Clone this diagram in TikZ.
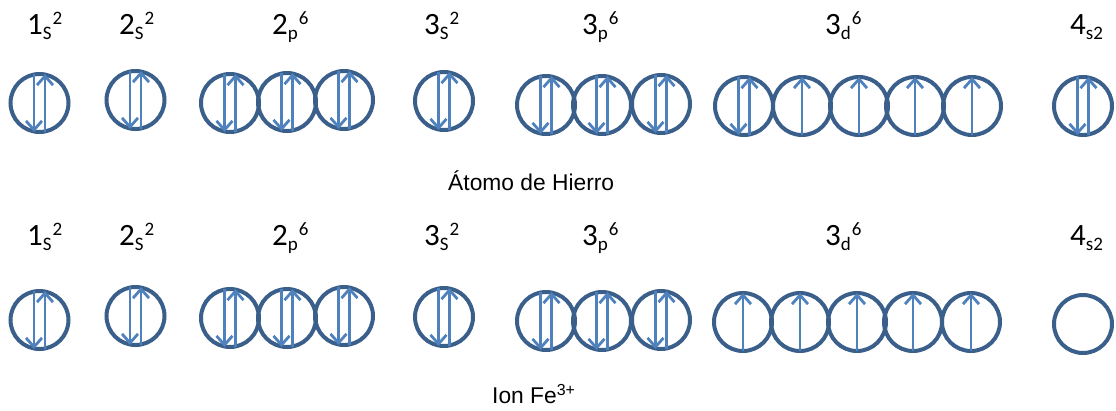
\documentclass[tikz,border=0pt]{standalone}
\usepackage{fontspec}
\setmainfont{Carlito}
\newfontfamily\capfont{Liberation Sans}
\usetikzlibrary{arrows.meta}
\definecolor{ringc}{HTML}{3A5F8B}
\definecolor{arrc}{HTML}{4F81BD}
\newcommand{\olab}[3]{#1\raisebox{-5pt}{\fontsize{19}{19}\selectfont #2}\raisebox{10pt}{\fontsize{19}{19}\selectfont\hspace{1pt}#3}}
\newcommand{\pairorb}[3]{%
 \node[orb] (#1) at (#2,#3) {};
 \draw[spin] ([xshift=-5.5pt]#1.north) -- ([xshift=-5.5pt]#1.south);
 \draw[spin] ([xshift=5.5pt]#1.south) -- ([xshift=5.5pt]#1.north);}
\newcommand{\uporb}[3]{%
 \node[orb] (#1) at (#2,#3) {};
 \draw[spin] (#1.south) -- (#1.north);}
\newcommand{\emptyorb}[3]{%
 \node[orb] (#1) at (#2,#3) {};}
\begin{document}
\begin{tikzpicture}[x=1pt,y=-1pt,
 orb/.style={circle, draw=ringc, line width=4pt, minimum size=58pt, inner sep=0pt, outer sep=0pt},
 spin/.style={draw=arrc, line width=2.8pt, -{Straight Barb[length=9pt,width=16pt]}},
 lab/.style={anchor=base west, inner sep=0pt, font=\fontsize{31}{31}\selectfont},
 captext/.style={anchor=base west, inner sep=0pt, font=\capfont\fontsize{22.8}{22.8}\selectfont}]
\useasboundingbox (0,0) rectangle (1116,410);
% top row orbitals (iron atom)
\pairorb{a1}{39.5}{103}
\pairorb{a2}{135.5}{100}
\pairorb{a3}{230}{103}
\pairorb{a4}{287}{102}
\pairorb{a5}{344}{100}
\pairorb{a6}{444}{101}
\pairorb{a7}{546}{105}
\pairorb{a8}{602}{105}
\pairorb{a9}{661}{104}
\pairorb{a10}{744}{106}
\uporb{a11}{802}{106}
\uporb{a12}{859}{106}
\uporb{a13}{915}{106}
\uporb{a14}{972}{106}
\pairorb{a15}{1083}{106}
% bottom row orbitals (Fe3+ ion)
\pairorb{b1}{39.5}{320}
\pairorb{b2}{135.5}{316}
\pairorb{b3}{230}{318}
\pairorb{b4}{287}{318}
\pairorb{b5}{344}{316}
\pairorb{b6}{444}{317}
\pairorb{b7}{546}{321}
\pairorb{b8}{602}{321}
\pairorb{b9}{661}{320}
\uporb{b10}{743}{322}
\uporb{b11}{800}{322}
\uporb{b12}{857}{322}
\uporb{b13}{913}{322}
\uporb{b14}{971}{322}
\emptyorb{b15}{1083}{324}
% labels
\node[lab] (la1) at (27,34) {\olab{1}{S}{2}};
\node[lab] (la2) at (119,34) {\olab{2}{S}{2}};
\node[lab] (la3) at (272,34) {\olab{2}{p}{6}};
\node[lab] (la4) at (424,34) {\olab{3}{S}{2}};
\node[lab] (la5) at (582,34) {\olab{3}{p}{6}};
\node[lab] (la6) at (825,34) {\olab{3}{d}{6}};
\node[lab] (la7) at (1070,34) {\olab{4}{s2}{}};
\node[lab] (lb1) at (27,245) {\olab{1}{S}{2}};
\node[lab] (lb2) at (119,245) {\olab{2}{S}{2}};
\node[lab] (lb3) at (272,245) {\olab{2}{p}{6}};
\node[lab] (lb4) at (424,245) {\olab{3}{S}{2}};
\node[lab] (lb5) at (582,245) {\olab{3}{p}{6}};
\node[lab] (lb6) at (825,245) {\olab{3}{d}{6}};
\node[lab] (lb7) at (1070,245) {\olab{4}{s2}{}};
% captions
\node[captext] (c1) at (448,190) {Átomo de Hierro};
\node[captext] (c2) at (492,403) {Ion Fe\textsuperscript{3+}};
\end{tikzpicture}
\end{document}
